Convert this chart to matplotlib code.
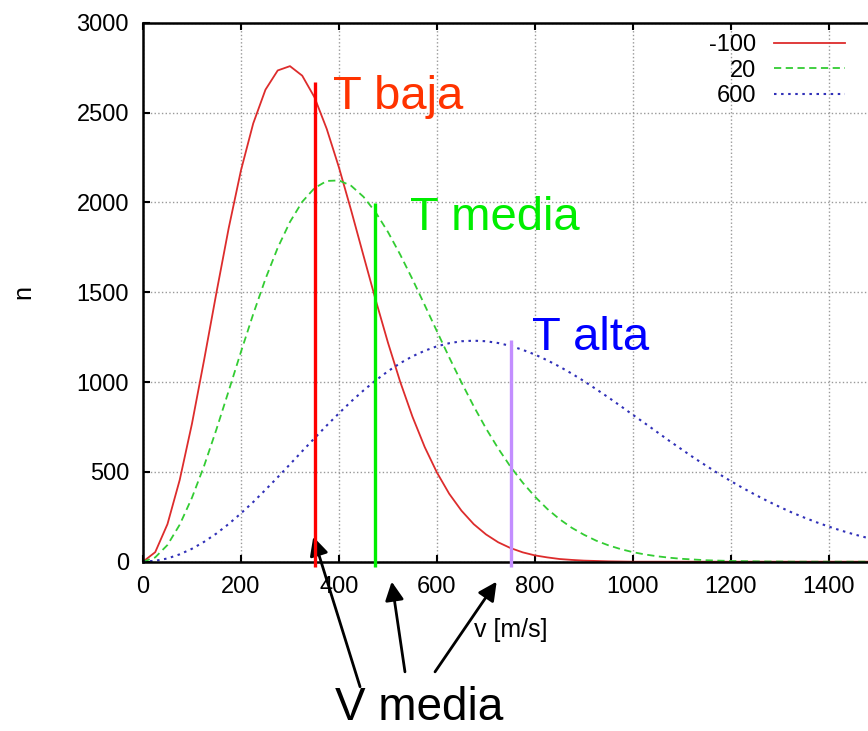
import numpy as np
import matplotlib.pyplot as plt

plt.rcParams['font.family'] = ['Liberation Sans', 'DejaVu Sans']

# speeds [m/s] where the curves were read
v = list(range(0, 1501, 25))

# n for T = -100, 20, 600
n_m100 = [0, 53, 209, 455, 768, 1126, 1498, 1857, 2178, 2439, 2627, 2734, 2758,
          2705, 2585, 2409, 2194, 1954, 1704, 1456, 1219, 1001, 807, 638, 496,
          378, 284, 209, 152, 108, 76, 52, 35, 24, 15, 10, 6, 4, 2, 1, 0,
          0, 0, 0, 0, 0, 0, 0, 0, 0, 0, 0, 0, 0, 0, 0, 0, 0, 0, 0, 0]
n_20 = [0, 24, 93, 206, 356, 535, 737, 951, 1168, 1378, 1574, 1747, 1891, 2003,
        2079, 2119, 2122, 2092, 2031, 1944, 1835, 1709, 1572, 1428, 1282, 1137,
        998, 865, 742, 630, 529, 440, 362, 294, 237, 189, 150, 117, 91, 70, 53,
        40, 30, 22, 16, 12, 8, 6, 4, 3, 2, 1, 1, 0, 0, 0, 0, 0, 0, 0, 0]
n_600 = [0, 5, 18, 41, 72, 111, 157, 210, 269, 332, 400, 470, 542, 615, 687,
         758, 826, 892, 953, 1009, 1060, 1105, 1143, 1174, 1199, 1216, 1227,
         1230, 1227, 1217, 1201, 1179, 1153, 1121, 1086, 1047, 1005, 960, 914,
         866, 817, 769, 720, 671, 624, 577, 533, 489, 448, 409, 372, 337, 304,
         273, 245, 219, 195, 173, 153, 135, 118]

series_labels = ['-100', '20', '600']

# mean speed markers
v_mean = [351, 474, 752]
n_mean_top = [2670, 1995, 1233]
mean_colors = ['#ff0000', '#00ee00', '#c38eff']

fig = plt.figure(figsize=(8.68, 7.31), dpi=100)
ax = fig.add_axes([0.1647, 0.2316, 0.8468, 0.7374])

ax.plot(v, n_m100, color='#dd2c2c', lw=1.3, label=series_labels[0])
ax.plot(v, n_20, color='#33cc33', lw=1.3, dashes=(4, 2.5), label=series_labels[1])
ax.plot(v, n_600, color='#3030b8', lw=1.5, dashes=(1.2, 2.2), label=series_labels[2])

for xm, top, c in zip(v_mean, n_mean_top, mean_colors):
    ax.plot([xm, xm], [-28, top], color=c, lw=2.4, clip_on=False, zorder=5,
            solid_capstyle='butt')

ax.set_xlim(0, 1500)
ax.set_ylim(0, 3000)
ax.set_xticks(np.arange(0, 1401, 200))
ax.set_yticks(np.arange(0, 3001, 500))
ax.grid(True, color='#999999', linestyle=':', lw=1)
ax.tick_params(direction='in', length=5, width=1.5, top=True, right=False,
               labelsize=17, pad=10)
for s in ax.spines.values():
    s.set_linewidth(1.8)

ax.set_xlabel('v [m/s]', fontsize=18)
ax.xaxis.set_label_coords(0.5, -0.105)
ax.set_ylabel('n', fontsize=18)
ax.yaxis.set_label_coords(-0.146, 0.5)

ax.legend(loc='upper right', bbox_to_anchor=(845 / 868, 1 - 34 / 731),
          bbox_transform=fig.transFigure, frameon=False, markerfirst=False,
          fontsize=17, handlelength=3.0, handletextpad=0.75, labelspacing=0.15,
          borderpad=0, borderaxespad=0)

ax.text(388, 2519, 'T baja', color='#ff3300', fontsize=34, va='baseline')
ax.text(545, 1845, 'T media', color='#00ee00', fontsize=34, va='baseline')
ax.text(794, 1179, 'T alta', color='#0000ff', fontsize=34, va='baseline')
ax.text(392, -881, 'V media', color='black', fontsize=33, va='baseline',
        clip_on=False)

arrows = [((347.6, 139), (443, -696)),
          ((507.6, -111), (534.7, -613)),
          ((721.8, -111), (596, -613))]
for tip, tail in arrows:
    ax.annotate('', xy=tip, xytext=tail, annotation_clip=False,
                arrowprops=dict(arrowstyle='-|>', color='black', lw=2,
                                mutation_scale=28, shrinkA=0, shrinkB=0))

fig.savefig('out.png', dpi=100)
